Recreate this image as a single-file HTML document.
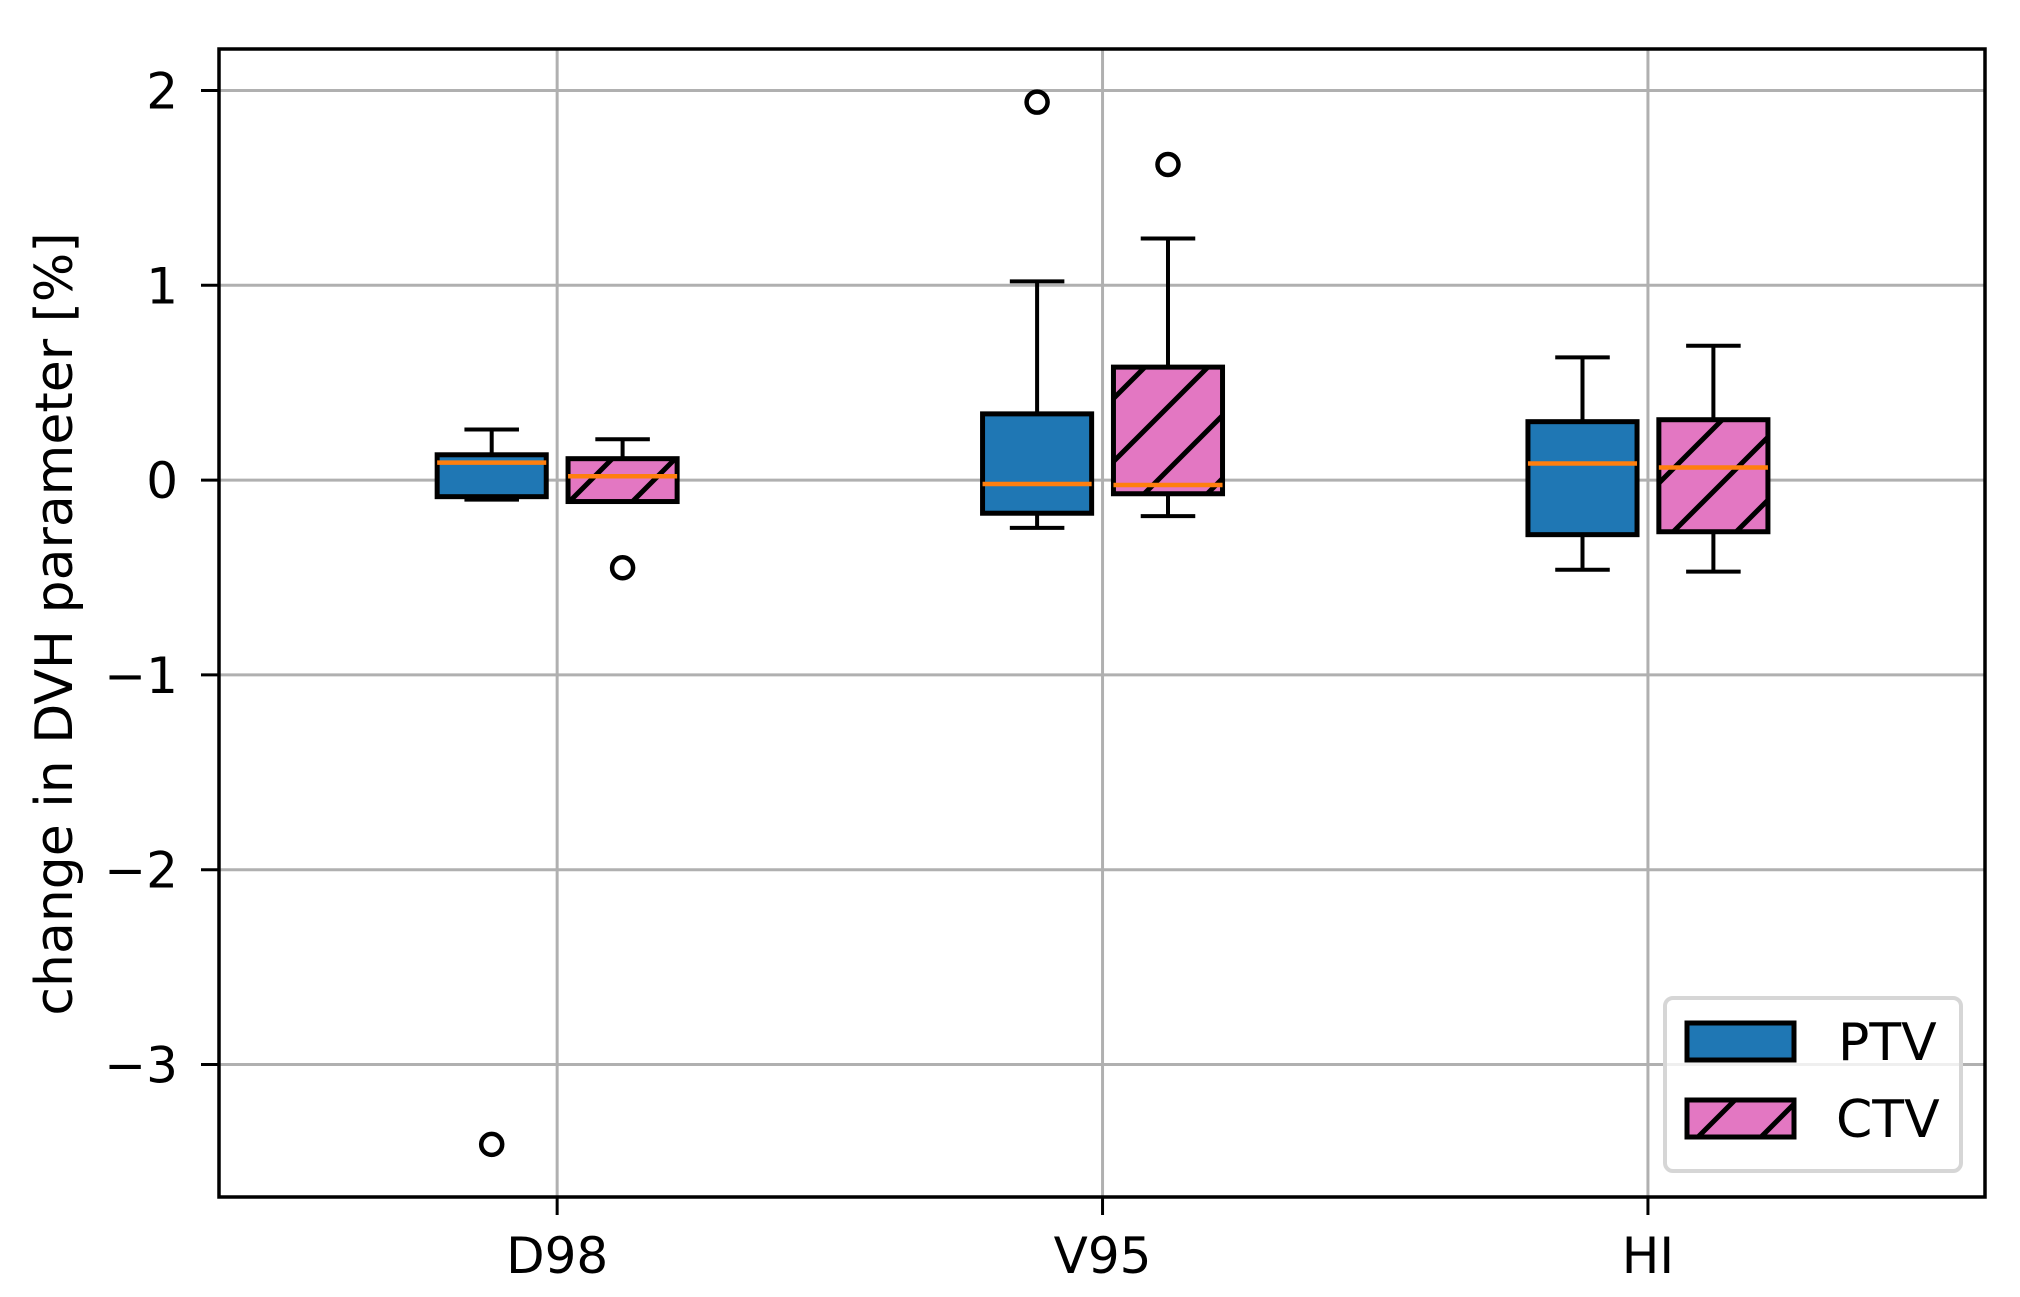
<!DOCTYPE html>
<html><head><meta charset="utf-8"><style>
html,body{margin:0;padding:0;background:#fff;}
svg{display:block;font-family:"DejaVu Sans","Liberation Sans",sans-serif;}
</style></head><body>
<svg id="chart" width="2020" height="1297" viewBox="0 0 2020 1297" xmlns="http://www.w3.org/2000/svg">
<defs>
<pattern id="hatch" patternUnits="userSpaceOnUse" width="63" height="63">
<rect width="63" height="63" fill="#e377c2"/>
<path d="M-10,73 L73,-10 M-73,73 L10,-10 M53,73 L136,-10" stroke="#000" stroke-width="5"/>
</pattern>
</defs>
<g id="grid"></g>
<g id="marks"></g>
<g id="axes"></g>
<text transform="translate(72,624) rotate(-90)" text-anchor="middle" font-size="52">change in DVH parameter [%]</text>
<g>
<rect x="1665" y="998" width="296" height="173" rx="8" fill="#fff" fill-opacity="0.8" stroke="#d6d6d6" stroke-width="4"/>
<rect x="1687" y="1023" width="107" height="37" fill="#1f77b4" stroke="#000" stroke-width="5"/>
<text x="1838" y="1060" font-size="52">PTV</text>
<rect x="1687" y="1100" width="107" height="37" fill="url(#hatch)" stroke="#000" stroke-width="5"/>
<text x="1836" y="1137" font-size="52">CTV</text>
</g>
</svg>
<script>
const categories = ["D98", "V95", "HI"];
const seriesNames = ["PTV", "CTV"];
const ptvWhiskerHigh = [0.26, 1.02, 0.63];
const ptvQ3 = [0.13, 0.34, 0.30];
const ptvMedian = [0.09, -0.02, 0.085];
const ptvQ1 = [-0.085, -0.17, -0.28];
const ptvWhiskerLow = [-0.10, -0.245, -0.46];
const ptvOutliers = [[-3.41], [1.94], []];
const ctvWhiskerHigh = [0.21, 1.24, 0.69];
const ctvQ3 = [0.11, 0.58, 0.31];
const ctvMedian = [0.02, -0.025, 0.065];
const ctvQ1 = [-0.11, -0.07, -0.265];
const ctvWhiskerLow = [-0.11, -0.185, -0.47];
const ctvOutliers = [[-0.45], [1.62], []];
const yTicks = [2, 1, 0, -1, -2, -3];
const yTickLabels = ["2", "1", "0", "\u22121", "\u22122", "\u22123"];

const L=219,R=1985,T=49,B=1197;
const xMin=0.380,xMax=3.618,yMin=-3.68,yMax=2.213;
const xS=v=>L+(v-xMin)/(xMax-xMin)*(R-L);
const yS=v=>T+(yMax-v)/(yMax-yMin)*(B-T);
const NS="http://www.w3.org/2000/svg";
function mk(tag,attrs,parent,text){const e=document.createElementNS(NS,tag);for(const k in attrs)e.setAttribute(k,attrs[k]);if(text!==undefined)e.textContent=text;parent.appendChild(e);return e;}
const grid=document.getElementById('grid'),marks=document.getElementById('marks'),axes=document.getElementById('axes');
yTicks.forEach((t,i)=>{
  const y=yS(t);
  const g=mk('line',{x1:L,x2:R,y1:y,y2:y,stroke:'#b0b0b0','stroke-width':3},grid);
  
  
  const tk=mk('line',{x1:L-18,x2:L,y1:y,y2:y,stroke:'#000','stroke-width':3},axes);
  
  
  const lb=mk('text',{x:L-41,y:y+18,'text-anchor':'end','font-size':50},axes,yTickLabels[i]);
  
  
});
categories.forEach((c,i)=>{
  const x=xS(i+1);
  const g=mk('line',{x1:x,x2:x,y1:T,y2:B,stroke:'#b0b0b0','stroke-width':3},grid);
  
  
  const tk=mk('line',{x1:x,x2:x,y1:B,y2:B+18,stroke:'#000','stroke-width':3},axes);
  
  
  const lb=mk('text',{x:x,y:1273,'text-anchor':'middle','font-size':50},axes,c);
  
  
});
const frame=mk('rect',{x:L,y:T,width:R-L,height:B-T,fill:'none',stroke:'#000','stroke-width':3.5},axes);



const series=[
 {hi:ptvWhiskerHigh,q3:ptvQ3,med:ptvMedian,q1:ptvQ1,lo:ptvWhiskerLow,out:ptvOutliers,off:-0.12,fill:'#1f77b4'},
 {hi:ctvWhiskerHigh,q3:ctvQ3,med:ctvMedian,q1:ctvQ1,lo:ctvWhiskerLow,out:ctvOutliers,off:0.12,fill:'url(#hatch)'}];
const bw=0.2;
series.forEach((s,si)=>{
  categories.forEach((c,i)=>{
    const cx=xS(i+1+s.off),x0=xS(i+1+s.off-bw/2),x1=xS(i+1+s.off+bw/2),cw=(x1-x0)/4;
    const g=mk('g',{},marks);
    
    
    const st={stroke:'#000','stroke-width':4};
    mk('line',Object.assign({x1:cx,x2:cx,y1:yS(s.hi[i]),y2:yS(s.q3[i])},st),g);
    mk('line',Object.assign({x1:cx,x2:cx,y1:yS(s.lo[i]),y2:yS(s.q1[i])},st),g);
    mk('line',Object.assign({x1:cx-cw,x2:cx+cw,y1:yS(s.hi[i]),y2:yS(s.hi[i])},st),g);
    mk('line',Object.assign({x1:cx-cw,x2:cx+cw,y1:yS(s.lo[i]),y2:yS(s.lo[i])},st),g);
    mk('rect',{x:x0,y:yS(s.q3[i]),width:x1-x0,height:yS(s.q1[i])-yS(s.q3[i]),fill:s.fill,stroke:'#000','stroke-width':5},g);
    mk('line',{x1:x0,x2:x1,y1:yS(s.med[i]),y2:yS(s.med[i]),stroke:'#ff7f0e','stroke-width':4.5},g);
    s.out[i].forEach(v=>{
      const o=mk('circle',{cx:cx,cy:yS(v),r:10.5,fill:'none',stroke:'#000','stroke-width':4.5},g);
      
      
    });
  });
});
</script>
</body></html>
